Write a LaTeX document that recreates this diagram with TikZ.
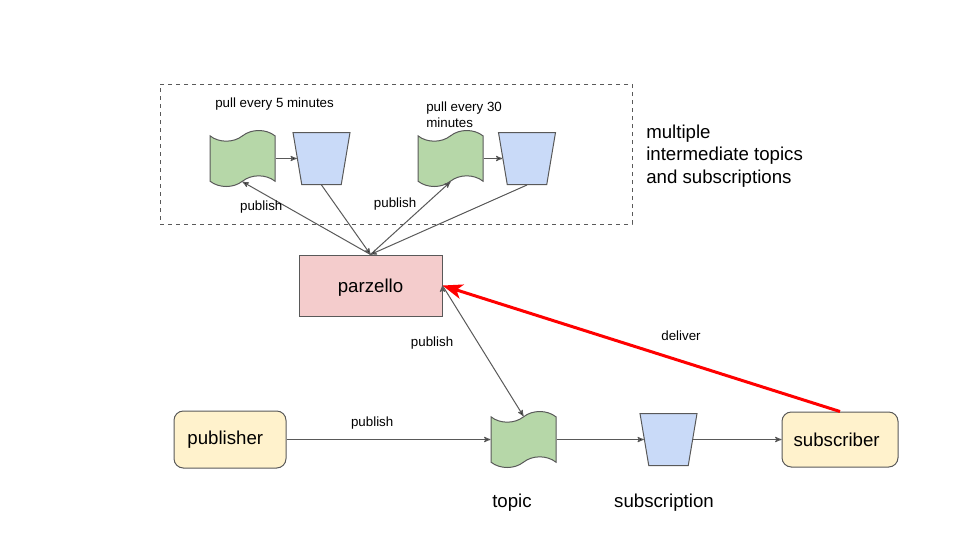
\documentclass[tikz,border=0pt]{standalone}
\usepackage{fontspec}
\setmainfont{Liberation Sans}
\usepackage{xcolor}
\usetikzlibrary{arrows,arrows.meta,positioning,shapes.geometric,shapes.symbols}
\definecolor{topicgreen}{HTML}{B6D7A8}
\definecolor{subblue}{HTML}{C9DAF8}
\definecolor{parzpink}{HTML}{F4CCCC}
\definecolor{actoryellow}{HTML}{FFF2CC}
\definecolor{edgegray}{HTML}{595959}

\begin{document}
\begin{tikzpicture}[x=0.75pt,y=-0.75pt,->,>=stealth',
    every node/.style={font=\fontsize{10}{12}\selectfont},
    big/.style={font=\fontsize{14}{16.8}\selectfont},
    topic/.style={tape,draw=edgegray,fill=topicgreen,line width=0.75pt,minimum width=48.75pt,minimum height=42pt,tape bend height=8pt,inner sep=1pt},
    sub/.style={trapezium,shape border rotate=180,trapezium angle=77.5,trapezium stretches=true,draw=edgegray,fill=subblue,line width=0.75pt,minimum width=42.75pt,minimum height=39pt,inner sep=1pt},
    actor/.style={big,draw=edgegray,fill=actoryellow,line width=0.75pt,rounded corners=7pt},
    conn/.style={draw=edgegray,line width=0.75pt}]

    \useasboundingbox (0,0) rectangle (960,540);

    % The pull group
    \node [draw=edgegray,dashed,line width=0.75pt,minimum width=354pt,minimum height=105pt,inner sep=0pt] at (396,154) (group) {};
    \node [topic] at (242.5,158.5) (T1) {};
    \node [sub] at (321.5,158.5) (S1) {};
    \node [topic] at (450.5,158.5) (T2) {};
    \node [sub] at (527,158.5) (S2) {};
    \node [anchor=west,inner sep=0pt] at (215,104) (pull1) {pull every 5 minutes};
    \node [anchor=west,align=left,inner sep=0pt] at (426,114.5) (pull2) {pull every 30\\minutes};
    \node [big,anchor=west,align=left,inner sep=0pt] at (646,156) (multi) {multiple\\intermediate topics\\and subscriptions};

    % The main line
    \node [draw=edgegray,fill=parzpink,big,line width=0.75pt,minimum width=107.25pt,minimum height=45.75pt,text depth=0pt] at (370.5,285.5) (P) {parzello};
    \node [actor,minimum width=84pt,minimum height=42.75pt] at (230,439.5) (pub) {\hspace*{-7pt}publisher};
    \node [topic] at (523.5,439.5) (T) {};
    \node [sub] at (668.5,439.5) (S) {};
    \node [actor,minimum width=87pt,minimum height=41.25pt] at (840,439.5) (subr) {\hspace*{-5pt}subscriber};
    \node [big] at (512,502.5) (Tlabel) {topic};
    \node [big] at (664,502.5) (Slabel) {subscription};

    % Connections
    \path[conn]
    (T1.east) edge (S1)
    (T2.east) edge (S2)
    (P.north) edge node[pos=0.65,left] {publish} (T1.south)
    (S1.south) edge (P.north)
    (P.north) edge node[pos=0.7,left=4pt] {publish} (T2.south)
    (S2.south) edge (P.north)
    (P.east) edge node[pos=0.44,left=15pt] {publish} (T.north)
    (pub) edge node[pos=0.42,above=4pt] {publish} (T)
    (T) edge (S)
    (S) edge (subr);

    \draw[-{Stealth[length=15pt,width=11pt,inset=4pt]},red,line width=2.25pt] (subr.north) -- node[pos=0.4,above=11pt,text=black] {deliver} (P.east);
\end{tikzpicture}
\end{document}
